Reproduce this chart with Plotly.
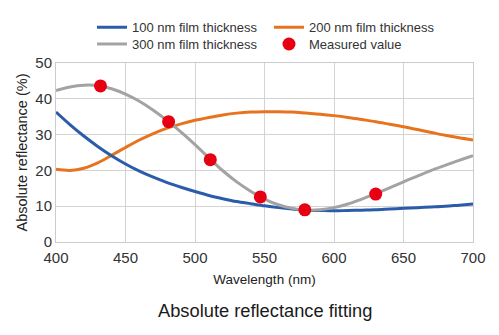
import plotly.graph_objects as go

wavelength = [400, 410, 420, 430, 440, 450, 460, 470, 480, 490, 500, 510, 520, 530, 540, 550,
              560, 570, 580, 590, 600, 610, 620, 630, 640, 650, 660, 670, 680, 690, 700]
r100 = [36.3, 32.8, 29.6, 26.7, 24.1, 21.8, 19.8, 18.1, 16.6, 15.3, 14.1, 13.0, 12.1, 11.3, 10.7, 10.1,
        9.6, 9.2, 8.9, 8.8, 8.7, 8.8, 8.9, 9.0, 9.2, 9.4, 9.6, 9.8, 10.0, 10.3, 10.6]
r200 = [20.3, 20.0, 20.6, 22.1, 24.2, 26.4, 28.5, 30.3, 31.8, 33.0, 34.0, 34.8, 35.5, 36.0, 36.3, 36.4,
        36.4, 36.3, 36.0, 35.7, 35.3, 34.8, 34.2, 33.6, 32.9, 32.2, 31.4, 30.6, 29.8, 29.1, 28.5]
r300 = [42.3, 43.3, 43.8, 43.7, 42.8, 41.3, 39.3, 36.8, 33.9, 30.7, 27.2, 23.5, 19.9, 16.8, 14.2, 12.0,
        10.4, 9.4, 8.9, 9.0, 9.6, 10.6, 12.0, 13.5, 15.1, 16.8, 18.4, 20.0, 21.4, 22.8, 24.1]
meas_x = [432, 481, 511, 547, 579, 630]
meas_y = [43.6, 33.6, 23.0, 12.6, 9.0, 13.4]

names = ["100 nm film thickness", "200 nm film thickness", "300 nm film thickness", "Measured value"]
colors = ["#2a5caa", "#e8731f", "#a3a3a3", "#e60012"]

fig = go.Figure()
fig.add_trace(go.Scatter(x=wavelength, y=r200, mode="lines", name=names[1], line=dict(color=colors[1], width=3, shape="spline", smoothing=0.9), legend="legend", legendrank=2))
fig.add_trace(go.Scatter(x=wavelength, y=r100, mode="lines", name=names[0], line=dict(color=colors[0], width=3, shape="spline", smoothing=0.9), legend="legend", legendrank=1))
fig.add_trace(go.Scatter(x=wavelength, y=r300, mode="lines", name=names[2], line=dict(color=colors[2], width=3, shape="spline", smoothing=0.9), legend="legend2", legendrank=1))
fig.add_trace(go.Scatter(x=meas_x, y=meas_y, mode="markers", name=names[3], marker=dict(color=colors[3], size=13), legend="legend2", legendrank=2))

font = "Liberation Sans, Arial, sans-serif"
leg = dict(orientation="h", x=0.0863, xanchor="left", yanchor="middle", font=dict(size=13, color="#333", family=font),
           entrywidth=132, entrywidthmode="pixels", bgcolor="rgba(0,0,0,0)", traceorder="normal", itemwidth=30)

fig.update_layout(
    width=499, height=335,
    margin=dict(l=56, r=26, t=61, b=93),
    plot_bgcolor="white", paper_bgcolor="white",
    font=dict(family=font, color="#333"),
    legend=dict(leg, y=1.2),
    legend2=dict(leg, y=1.106),
    xaxis=dict(range=[400, 700], dtick=50, tick0=400, showgrid=True, gridcolor="#d3d3d3", gridwidth=1,
               showline=True, mirror=True, linecolor="#cccccc", linewidth=1, ticks="",
               tickfont=dict(size=15, color="#333"), ticklabelstandoff=2,
               title=dict(text="Wavelength (nm)", font=dict(size=13.5, color="#222"), standoff=9),
               zeroline=False, fixedrange=True),
    yaxis=dict(range=[0, 50], dtick=10, showgrid=True, gridcolor="#d3d3d3", gridwidth=1,
               showline=True, mirror=True, linecolor="#cccccc", linewidth=1, ticks="",
               tickfont=dict(size=15, color="#333"),
               title=dict(text="Absolute reflectance (%)", font=dict(size=14.5, color="#222"), standoff=4),
               zeroline=False, fixedrange=True),
    showlegend=True,
)
fig.add_annotation(text="Absolute reflectance fitting", xref="paper", yref="paper", x=0.5, y=-0.385,
                   xanchor="center", yanchor="middle", showarrow=False,
                   font=dict(size=18.3, color="#1a1a1a", family=font))
fig.write_html("out.html")
